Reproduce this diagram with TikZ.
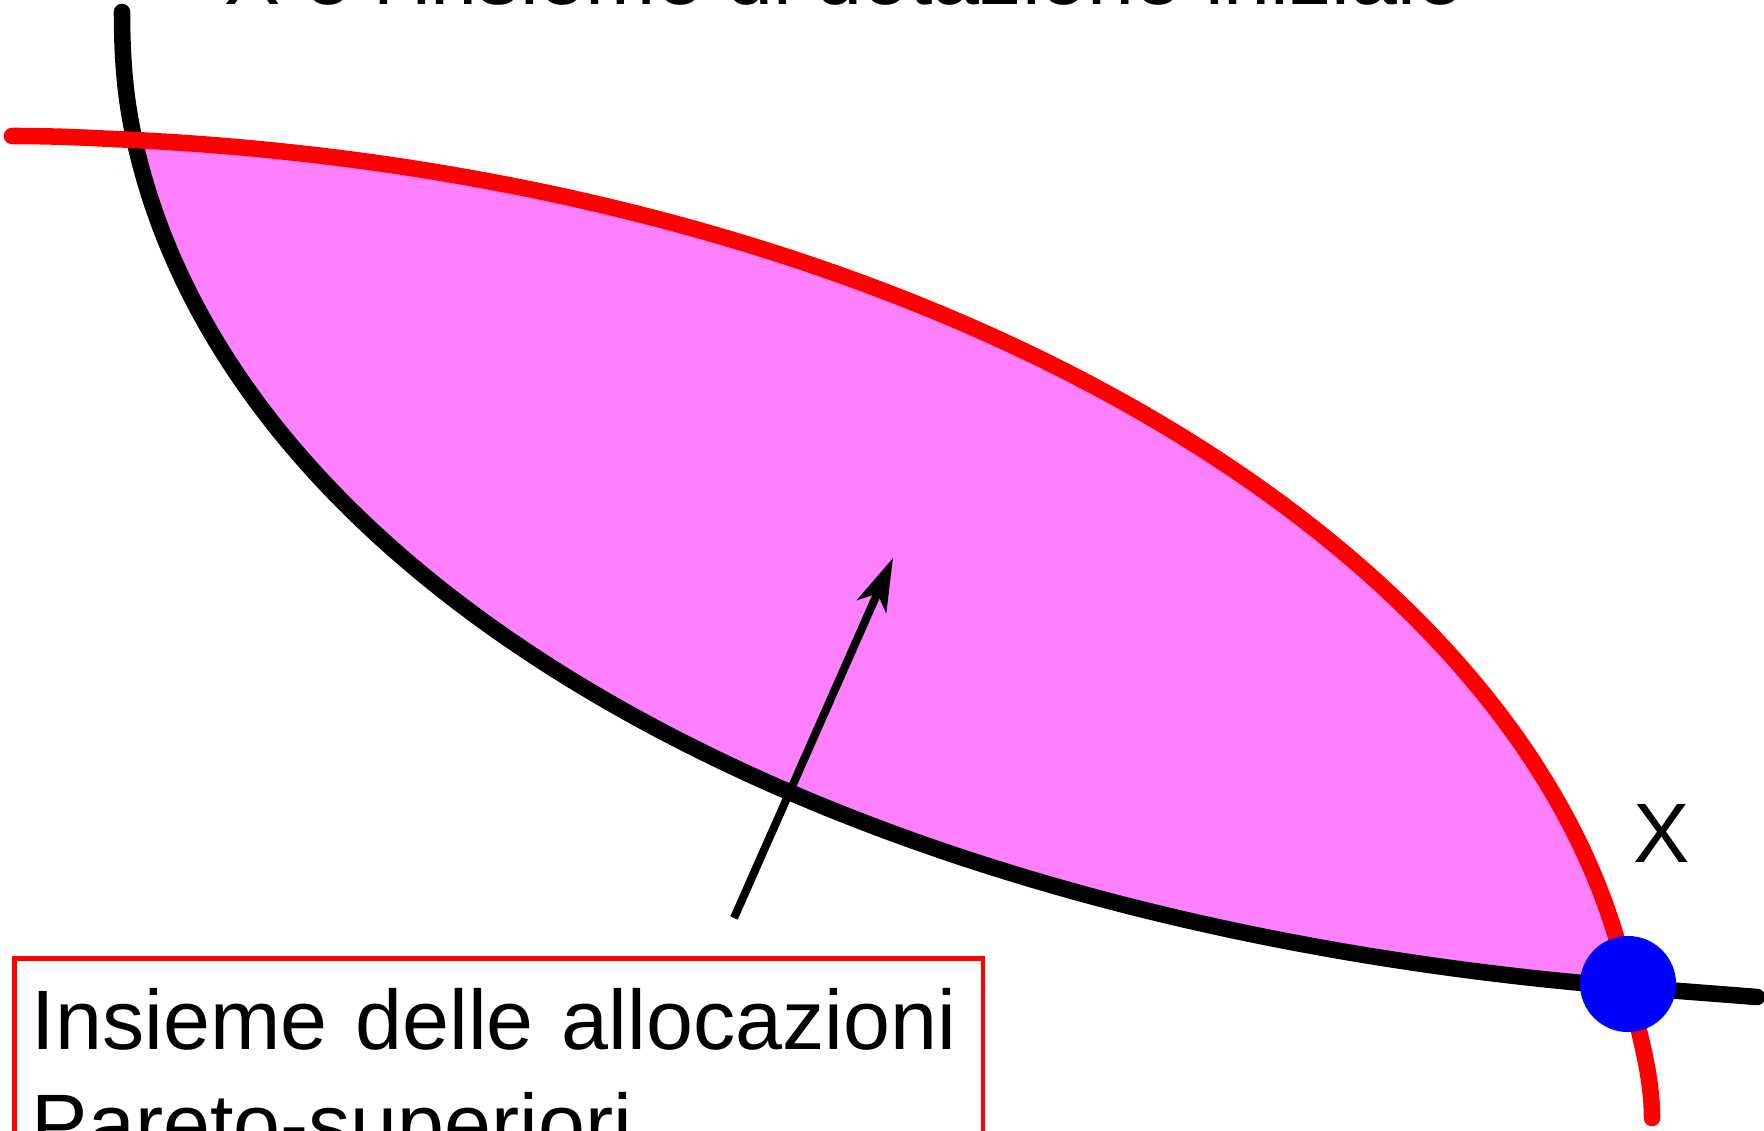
\documentclass[tikz,border=0pt]{standalone}
\usepackage{fontspec}
\setmainfont{Liberation Sans}
\usepackage{tikz}
\usetikzlibrary{arrows.meta}
\definecolor{pmag}{HTML}{FF80FF}
\definecolor{pred}{HTML}{FF0000}
\definecolor{pblue}{HTML}{0000FF}
\tikzset{
  >={Stealth[length=15pt, width=9pt, inset=4pt]},
  pcurva/.style={line width=4.7pt, line cap=round},
  prossa/.style={pcurva, draw=pred},
  pnera/.style={pcurva, draw=black},
  parea/.style={fill=pmag},
  pdot/.style={circle, fill=pblue, minimum size=9.6mm, inner sep=0pt},
  ptxt/.style={font=\fontsize{24}{29.6}\selectfont, inner sep=0pt},
  pbox/.style={draw=pred, line width=1.3pt, ptxt, inner xsep=5pt, inner ysep=8.5pt,
               text width=265.5pt, align=left},
  pfreccia/.style={->, line width=2.3pt},
}

\begin{document}
\begin{tikzpicture}[x=0.01cm,y=-0.01cm]
  \clip (0,0) rectangle (1764,1131);

  % area tra le due curve
  \fill[parea] (134,138) .. controls (232,588) and (828,923) .. (1628,987)
    -- (1628,984) .. controls (1538,554) and (934,180) .. (134,140) -- cycle;

  % curva nera
  \draw[pnera] (122,12) .. controls (122,70) and (127,105) .. (134,138)
    .. controls (232,588) and (828,923) .. (1628,987) -- (1757,997);

  % curva rossa
  \draw[prossa] (12,136) .. controls (60,136) and (90,138) .. (134,140)
    .. controls (934,180) and (1538,554) .. (1628,984)
    .. controls (1636,1024) and (1652,1070) .. (1652,1118);

  % dotazione iniziale
  \node[pdot] (xdot) at (1628,984) {};
  \node[ptxt, anchor=base west] (lblx) at (1633,862) {X};
  \node[ptxt, anchor=base west] (titolo) at (224,5) {X è l'insieme di dotazione iniziale};

  % freccia
  \coordinate (fs) at (734,918);
  \coordinate (fe) at (893,558);
  \draw[pfreccia] (fs) -- (fe);

  % riquadro
  \node[pbox, anchor=north west] (riq) at (12,956)
       {Insieme delle allocazioni\\Pareto-superiori};

\end{tikzpicture}
\end{document}
